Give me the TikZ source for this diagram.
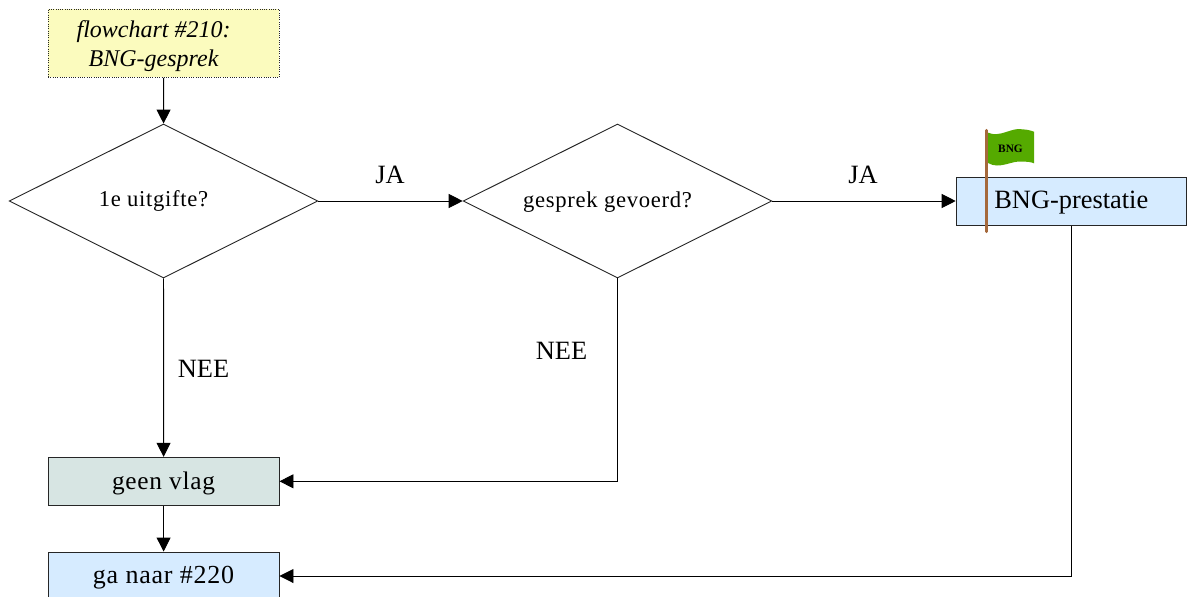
\documentclass[tikz,border=0pt]{standalone}
\usepackage{fontspec}
\setmainfont{Liberation Serif}
\usetikzlibrary{arrows.meta,shapes.geometric}
\definecolor{startfill}{HTML}{FBFBBE}
\definecolor{bluefill}{HTML}{D6EBFF}
\definecolor{greyfill}{HTML}{D7E5E3}
\definecolor{flaggreen}{HTML}{55AA00}
\definecolor{polebrown}{HTML}{A5693C}
\newfontfamily\lsfont[LetterSpace=3]{Liberation Serif}
\tikzset{
  x=0.75pt,y=-0.75pt,
  conn/.style={draw=black,line width=0.7pt,-{Triangle[length=10.5pt,width=10.5pt]}},
  boxbase/.style={draw=black!85,line width=0.7pt,inner sep=0pt,minimum width=173.1pt,minimum height=36pt,align=center},
  startbox/.style={boxbase,fill=startfill,densely dotted,minimum height=51pt,text height=39pt,font=\fontsize{18}{21.75}\selectfont\itshape},
  bluebox/.style={boxbase,fill=bluefill,font=\fontsize{19.8}{23}\selectfont},
  greybox/.style={boxbase,fill=greyfill,font=\fontsize{19}{22}\lsfont},
  decision/.style={diamond,draw=black!85,line width=0.7pt,fill=white,inner sep=0pt,aspect=2,minimum width=231.5pt,minimum height=115.5pt,font=\fontsize{17}{20}\lsfont},
  lab/.style={font=\fontsize{19.8}{23}\selectfont,inner sep=0pt}
}
\begin{document}
\begin{tikzpicture}
\useasboundingbox (0,0) rectangle (1187,596);
\node[startbox] (start) at (163.6,43.3) {flowchart \#210:\hspace*{15pt}\\BNG-gesprek\hspace*{15pt}};
\node[decision] (d1) at (163.5,201) {1e uitgifte?\hspace*{15pt}};
\node[decision,text height=14pt] (d2) at (617.5,201) {gesprek gevoerd?\hspace*{15pt}};
\node[bluebox,text height=14.5pt,minimum width=172.7pt] (bng) at (1071.3,201.3) {BNG-prestatie};
\node[greybox,text height=16pt] (geen) at (163.6,481.3) {geen vlag};
\node[bluebox,text height=16pt,font=\fontsize{19.5}{22}\lsfont] (ga) at (163.6,576) {ga naar \#220};
\node[lab] (ja1) at (390,175) {JA};
\node[lab] (ja2) at (863,175) {JA};
\node[lab] (nee1) at (203.5,369) {NEE};
\node[lab] (nee2) at (561.5,351) {NEE};
\draw[conn] (start) -- (d1);
\draw[conn] (d1) -- (d2);
\draw[conn] (d2) -- (bng.west |- d2);
\draw[conn] (d1) -- (geen);
\draw[conn] (geen) -- (ga);
\draw[conn] (d2.south) |- (geen.east);
\draw[conn] (bng.south) |- (ga.east);
% flag
\fill[flaggreen] (988,132.7) .. controls (1000,138) and (1012,127) .. (1022,129.3) .. controls (1027,129.5) and (1031,130.5) .. (1034,131.7) -- (1034,163.3) .. controls (1031,162) and (1027,161.5) .. (1022,161.7) .. controls (1012,160) and (1000,170) .. (988,163) -- cycle;
\node[font=\fontsize{8.5}{10}\selectfont\bfseries,inner sep=0pt] (flagtext) at (1010.5,148.5) {BNG};
\draw[polebrown,line width=2.6pt,line cap=round] (986.5,130.5) -- (986.5,231.5);
\end{tikzpicture}
\end{document}
